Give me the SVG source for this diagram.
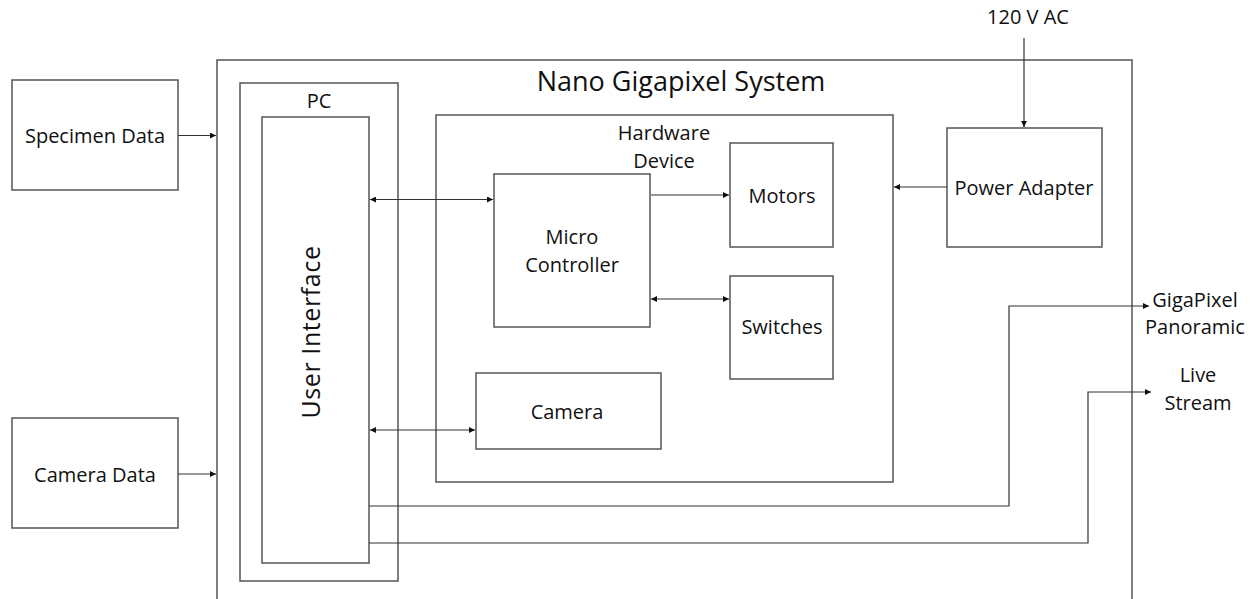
<svg xmlns="http://www.w3.org/2000/svg" width="1257" height="599" viewBox="0 0 1257 599">
  <style>
    .box { fill: none; stroke: #555; stroke-width: 1.5; }
    .wire { fill: none; stroke: #333; stroke-width: 1.2; }
    text { font-family: "Open Sans", "Noto Sans", sans-serif; fill: #111; text-anchor: middle; }
    .lbl { font-size: 20px; }
  </style>
  <defs>
    <marker id="arrow" viewBox="0 0 6 6" refX="6" refY="3" markerWidth="6" markerHeight="6" markerUnits="userSpaceOnUse" orient="auto-start-reverse">
      <path d="M0,0 L6,3 L0,6 z" fill="#111"/>
    </marker>
  </defs>
  <rect width="1257" height="599" fill="#fff"/>

  <g id="system">
    <path class="box" d="M217,599 V60 H1132 V599"/>
    <text x="681" y="91" style="font-size:27px">Nano Gigapixel System</text>
  </g>

  <g id="specimen-data">
    <rect class="box" x="12" y="80" width="166" height="110"/>
    <text class="lbl" x="95" y="143">Specimen Data</text>
  </g>

  <g id="camera-data">
    <rect class="box" x="12" y="418" width="166" height="110"/>
    <text class="lbl" x="95" y="482">Camera Data</text>
  </g>

  <g id="pc">
    <rect class="box" x="240" y="83" width="158" height="498"/>
    <text class="lbl" x="319" y="108">PC</text>
  </g>

  <g id="user-interface">
    <rect class="box" x="262" y="117" width="107" height="446"/>
    <text x="320" y="332" transform="rotate(-90 320 332)" style="font-size:25px;letter-spacing:0.6px">User Interface</text>
  </g>

  <g id="hardware-device">
    <rect class="box" x="436" y="115" width="457" height="367"/>
    <text class="lbl" x="664" y="140">Hardware</text>
    <text class="lbl" x="664" y="168">Device</text>
  </g>

  <g id="micro-controller">
    <rect class="box" x="494" y="174" width="156" height="153"/>
    <text class="lbl" x="572" y="244">Micro</text>
    <text class="lbl" x="572" y="272">Controller</text>
  </g>

  <g id="motors">
    <rect class="box" x="730" y="143" width="103" height="104"/>
    <text class="lbl" x="782" y="203">Motors</text>
  </g>

  <g id="switches">
    <rect class="box" x="730" y="276" width="103" height="103"/>
    <text class="lbl" x="782" y="334">Switches</text>
  </g>

  <g id="camera">
    <rect class="box" x="476" y="373" width="185" height="76"/>
    <text class="lbl" x="567" y="419">Camera</text>
  </g>

  <g id="power-adapter">
    <rect class="box" x="947" y="128" width="155" height="119"/>
    <text class="lbl" x="1024" y="195">Power Adapter</text>
  </g>

  <g id="outputs">
    <text class="lbl" x="1028" y="24">120 V AC</text>
    <text class="lbl" x="1195" y="307">GigaPixel</text>
    <text class="lbl" x="1195" y="334">Panoramic</text>
    <text class="lbl" x="1198" y="382">Live</text>
    <text class="lbl" x="1198" y="410">Stream</text>
  </g>

  <g id="connectors">
    <line class="wire" x1="178" y1="135.5" x2="216" y2="135.5" marker-end="url(#arrow)"/>
    <line class="wire" x1="178" y1="474" x2="216" y2="474" marker-end="url(#arrow)"/>
    <line class="wire" x1="370" y1="199.5" x2="493" y2="199.5" marker-start="url(#arrow)" marker-end="url(#arrow)"/>
    <line class="wire" x1="370" y1="430" x2="475" y2="430" marker-start="url(#arrow)" marker-end="url(#arrow)"/>
    <line class="wire" x1="651" y1="195" x2="729" y2="195" marker-end="url(#arrow)"/>
    <line class="wire" x1="651" y1="299" x2="729" y2="299" marker-start="url(#arrow)" marker-end="url(#arrow)"/>
    <line class="wire" x1="947" y1="187" x2="894" y2="187" marker-end="url(#arrow)"/>
    <line class="wire" x1="1024" y1="38" x2="1024" y2="127" marker-end="url(#arrow)"/>
    <polyline class="wire" points="369,506 1009,506 1009,306 1149,306" marker-end="url(#arrow)"/>
    <polyline class="wire" points="369,543 1088,543 1088,392 1151,392" marker-end="url(#arrow)"/>
  </g>
</svg>
